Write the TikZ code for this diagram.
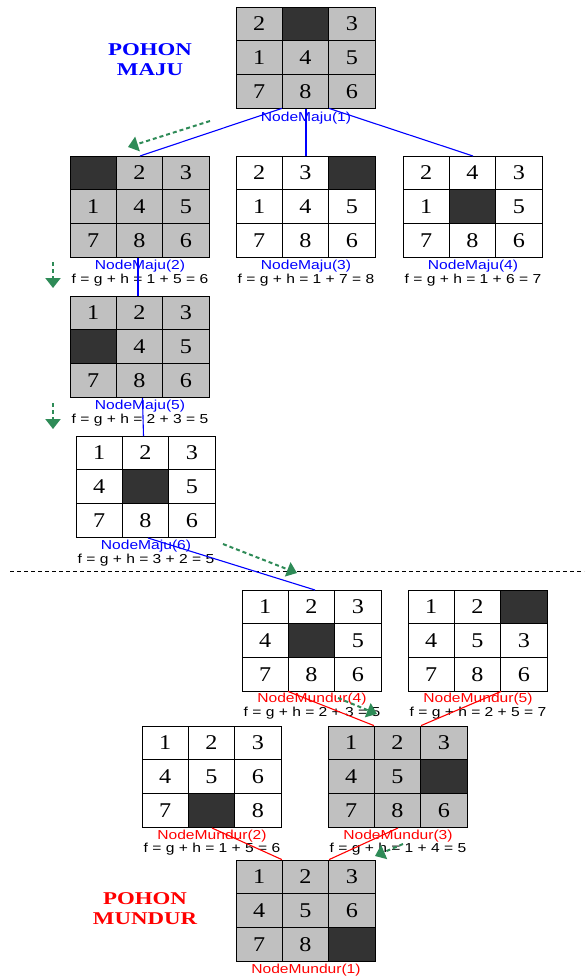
\documentclass[tikz,border=0pt]{standalone}
\usepackage{fontspec}
\setmainfont{Liberation Serif}[FakeStretch=1.15]
\setsansfont{Liberation Sans}[FakeStretch=1.2]
\usetikzlibrary{arrows.meta,calc}
\definecolor{silverg}{RGB}{192,192,192}
\definecolor{darkc}{RGB}{51,51,51}
\definecolor{greenar}{RGB}{46,139,87}
\tikzset{
  gridbox/.style={draw=black,line width=1pt,minimum width=139pt,minimum height=101pt,inner sep=0pt},
  cell/.style={draw=black,line width=0.8pt,minimum width=46.33pt,minimum height=33.67pt,inner sep=0pt,font=\fontsize{21}{24}\selectfont},
  lab/.style={inner sep=0pt,font=\sffamily\fontsize{13}{15}\selectfont},
  bluelab/.style={lab,text=blue},
  redlab/.style={lab,text=red},
  fline/.style={lab,text=black},
  bluecon/.style={draw=blue,line width=1.1pt},
  redcon/.style={draw=red,line width=1.1pt},
  greenarrow/.style={draw=greenar,line width=2pt,dash pattern=on 4pt off 3pt,-{Triangle[width=15pt,length=10pt,fill=greenar]}},
  title/.style={inner sep=0pt,align=center,font=\bfseries\fontsize{18}{20}\selectfont\addfontfeatures{FakeStretch=1.27}}
}
\newcommand\pgrid[4]{%
  \node[gridbox,anchor=north west,fill=#3] (#1) at (#2) {};
  \foreach \v [count=\i from 0] in {#4} {%
    \pgfmathtruncatemacro\rr{div(\i,3)}%
    \pgfmathtruncatemacro\cc{mod(\i,3)}%
    \ifnum\v=0
      \node[cell,fill=darkc] (#1-\i) at ($(#1.north west)+(\cc*46.333+23.167,\rr*33.667+16.833)$) {};
    \else
      \node[cell,fill=#3] (#1-\i) at ($(#1.north west)+(\cc*46.333+23.167,\rr*33.667+16.833)$) {\v};
    \fi
  }%
}
\begin{document}
\begin{tikzpicture}[x=1pt,y=-1pt]
\fill[white] (0,0) rectangle (584,979);
\useasboundingbox (0,0) rectangle (584,979);

% titles
\node[title,text=blue] (tmaju) at (150,60) {POHON\\MAJU};
\node[title,text=red] (tmundur) at (145,909) {POHON\\MUNDUR};

% grids
\pgrid{m1}{236,7}{silverg}{2,0,3,1,4,5,7,8,6}
\pgrid{m2}{70,156}{silverg}{0,2,3,1,4,5,7,8,6}
\pgrid{m3}{236,156}{white}{2,3,0,1,4,5,7,8,6}
\pgrid{m4}{403,156}{white}{2,4,3,1,0,5,7,8,6}
\pgrid{m5}{70,296}{silverg}{1,2,3,0,4,5,7,8,6}
\pgrid{m6}{76,436}{white}{1,2,3,4,0,5,7,8,6}
\pgrid{k4}{242,590}{white}{1,2,3,4,0,5,7,8,6}
\pgrid{k5}{408,590}{white}{1,2,0,4,5,3,7,8,6}
\pgrid{k2}{142,726}{white}{1,2,3,4,5,6,7,0,8}
\pgrid{k3}{328,726}{silverg}{1,2,3,4,5,0,7,8,6}
\pgrid{k1}{236,860}{silverg}{1,2,3,4,5,6,7,8,0}

% labels
\node[bluelab] (m1l) at ($(m1.south)+(0,9)$) {NodeMaju(1)};
\node[bluelab] (m2l) at ($(m2.south)+(0,8)$) {NodeMaju(2)};
\node[fline] (m2f) at ($(m2.south)+(0,22)$) {f = g + h = 1 + 5 = 6};
\node[bluelab] (m3l) at ($(m3.south)+(0,8)$) {NodeMaju(3)};
\node[fline] (m3f) at ($(m3.south)+(0,22)$) {f = g + h = 1 + 7 = 8};
\node[bluelab] (m4l) at ($(m4.south)+(0,8)$) {NodeMaju(4)};
\node[fline] (m4f) at ($(m4.south)+(0,22)$) {f = g + h = 1 + 6 = 7};
\node[bluelab] (m5l) at ($(m5.south)+(0,8)$) {NodeMaju(5)};
\node[fline] (m5f) at ($(m5.south)+(0,22)$) {f = g + h = 2 + 3 = 5};
\node[bluelab] (m6l) at ($(m6.south)+(0,8)$) {NodeMaju(6)};
\node[fline] (m6f) at ($(m6.south)+(0,22)$) {f = g + h = 3 + 2 = 5};
\node[redlab] (k4l) at ($(k4.south)+(0,7.5)$) {NodeMundur(4)};
\node[fline] (k4f) at ($(k4.south)+(0,21)$) {f = g + h = 2 + 3 = 5};
\node[redlab] (k5l) at ($(k5.south)+(0,7.5)$) {NodeMundur(5)};
\node[fline] (k5f) at ($(k5.south)+(0,21)$) {f = g + h = 2 + 5 = 7};
\node[redlab] (k2l) at ($(k2.south)+(0,8)$) {NodeMundur(2)};
\node[fline] (k2f) at ($(k2.south)+(0,21)$) {f = g + h = 1 + 5 = 6};
\node[redlab] (k3l) at ($(k3.south)+(0,8)$) {NodeMundur(3)};
\node[fline] (k3f) at ($(k3.south)+(0,21)$) {f = g + h = 1 + 4 = 5};
\node[redlab] (k1l) at ($(k1.south)+(0,8.5)$) {NodeMundur(1)};

% separator
\coordinate (sepl) at (10,571);
\coordinate (sepr) at (584,571);
\draw[black,line width=0.7pt,dash pattern=on 4pt off 3pt] (sepl) -- (sepr);

% tree connectors
\draw[bluecon] (m1-7.south west) -- (m2.north);
\draw[bluecon] (m1.south) -- (m3.north);
\draw[bluecon] (m1-7.south east) -- (m4.north);
\draw[bluecon] ($(m2.south)+(-2,0)$) -- ($(m5.north)+(-2,0)$);
\draw[bluecon] ($(m5.south)+(2.5,0)$) -- ($(m6.north)+(-2.5,0)$);
\draw[bluecon] ($(m6.south)+(2,0)$) -- ($(k4.north)+(3,0)$);
\draw[redcon] (k4-7.south west) -- (k3-1.north west);
\draw[redcon] (k5-7.south east) -- (k3-1.north east);
\draw[redcon] (k2.south) -- (k1-1.north west);
\draw[redcon] (k3.south) -- (k1-1.north east);

% green search arrows
\coordinate (g1s) at (210,121); \coordinate (g1e) at (128,147);
\coordinate (g2s) at (53,262);  \coordinate (g2e) at (53,288);
\coordinate (g3s) at (53,403);  \coordinate (g3e) at (53,429);
\coordinate (g4s) at (223,544); \coordinate (g4e) at (297,573);
\coordinate (g5s) at (338,698); \coordinate (g5e) at (377,714);
\coordinate (g6s) at (403,844); \coordinate (g6e) at (375,856);
\draw[greenarrow] (g1s) -- (g1e);
\draw[greenarrow] (g2s) -- (g2e);
\draw[greenarrow] (g3s) -- (g3e);
\draw[greenarrow] (g4s) -- (g4e);
\draw[greenarrow] (g5s) -- (g5e);
\draw[greenarrow] (g6s) -- (g6e);
\end{tikzpicture}
\end{document}
